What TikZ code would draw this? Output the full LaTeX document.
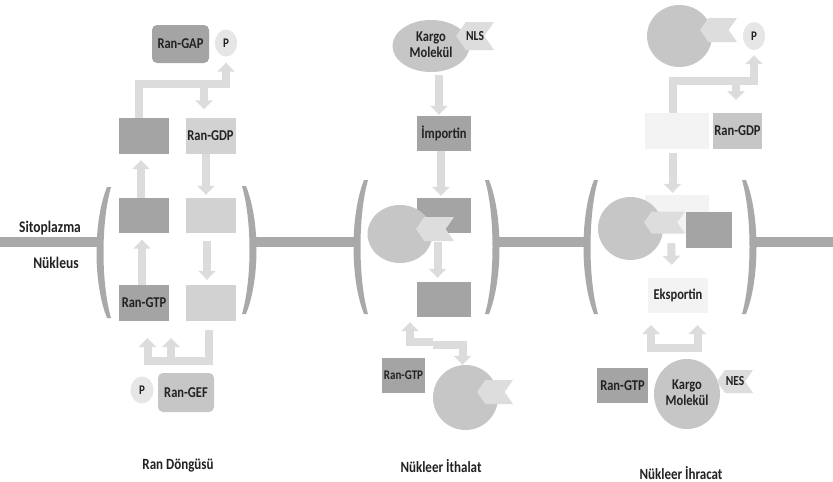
\documentclass[tikz,border=0pt]{standalone}
\usepackage{fontspec}
\usepackage{graphicx}
\setmainfont{Carlito}
\usetikzlibrary{arrows.meta,shapes.geometric,shapes.symbols}

\definecolor{memb}{HTML}{A9A9A9}
\definecolor{flowc}{HTML}{DCDCDC}
\definecolor{darkg}{HTML}{A4A4A4}
\definecolor{midg}{HTML}{C6C6C6}
\definecolor{lightg}{HTML}{D2D2D2}
\definecolor{paleg}{HTML}{F3F3F3}
\definecolor{tagg}{HTML}{DDDDDD}
\definecolor{phos}{HTML}{E6E6E6}
\definecolor{ink}{HTML}{222222}

% slightly tall lettering
\newcommand\tallt[1]{\scalebox{1}[1.2]{#1}}
\newcommand\twoline[2]{\tallt{\begin{tabular}{@{}c@{}}#1\\[-2pt]#2\end{tabular}}}

% membrane brackets: #1 outer x at the middle, #2 top y, #3 height
\newcommand\membL[3]{%
  \begin{scope}[shift={(#1,#2)}]
    \fill[memb] (11,0) .. controls (-3,35) and (-3,#3-35) .. (11,#3)
      -- (15,#3) .. controls (5,#3-35) and (5,35) .. (15,0) -- cycle;
  \end{scope}}
\newcommand\membR[3]{%
  \begin{scope}[shift={(#1,#2)},xscale=-1]
    \fill[memb] (11,0) .. controls (-3,35) and (-3,#3-35) .. (11,#3)
      -- (15,#3) .. controls (5,#3-35) and (5,35) .. (15,0) -- cycle;
  \end{scope}}

\tikzset{
  lbl/.style={font=\bfseries\fontsize{12.5}{15}\selectfont, text=ink},
  blk/.style={rectangle, inner sep=0pt, minimum width=50pt, minimum height=36pt, lbl},
  darkbox/.style={blk, fill=darkg},
  lightbox/.style={blk, fill=lightg},
  palebox/.style={blk, fill=paleg},
  enzyme/.style={blk, rounded corners=5pt},
  phosph/.style={ellipse, inner sep=0pt, minimum width=22pt, minimum height=27pt,
    fill=phos, text=ink, font=\bfseries\fontsize{11}{12}\selectfont},
  cargo/.style={ellipse, inner sep=0pt, fill=midg, lbl},
  tag/.style={signal, signal to=west, signal from=east, signal pointer angle=110,
    inner sep=0pt, fill=tagg, text=ink, font=\bfseries\fontsize{11.5}{12}\selectfont},
  flow/.style={draw=flowc, line width=8pt, line join=miter,
    -{Triangle[width=17pt,length=9pt]}},
  flow2/.style={draw=flowc, line width=8pt, line join=miter,
    {Triangle[width=17pt,length=9pt]}-{Triangle[width=17pt,length=9pt]}},
  caption/.style={font=\bfseries\fontsize{13}{15}\selectfont, text=ink},
}

\begin{document}
\begin{tikzpicture}[x=1pt,y=-1pt]
\useasboundingbox (0,0) rectangle (833,482);
\fill[white] (0,0) rectangle (833,482);

% ---------------- nuclear envelope ----------------
\draw[memb, line width=10pt] (0,241.5) -- (98,241.5);
\draw[memb, line width=10pt] (255,241.5) -- (355,241.5);
\draw[memb, line width=10pt] (498,241.5) -- (585,241.5);
\draw[memb, line width=10pt] (755,241.5) -- (833,241.5);
\membL{96}{187}{131}  \membR{257}{186}{128}
\membL{353}{180}{134} \membR{500}{180}{134}
\membL{583}{180}{134} \membR{757}{180}{134}

\node[lbl, font=\bfseries\fontsize{13.5}{15}\selectfont] (cyto) at (50,228) {\tallt{Sitoplazma}};
\node[lbl, font=\bfseries\fontsize{13.5}{15}\selectfont] (nuc) at (56,263) {\tallt{Nükleus}};

% ---------------- Ran cycle ----------------
\node[enzyme, fill=darkg, minimum width=57pt, minimum height=38pt] (gap) at (180.5,44) {\tallt{Ran-GAP}};
\node[phosph] (p1) at (226,43) {\tallt{P}};
\node[darkbox] (tl) at (144,136) {};
\node[lightbox] (tr) at (210.5,135.5) {\tallt{Ran-GDP}};
\node[darkbox, minimum height=35pt] (ml) at (144,215.5) {};
\node[lightbox, minimum height=35pt] (mr) at (210.5,215.5) {};
\node[darkbox] (bl) at (144,303) {\tallt{Ran-GTP}};
\node[lightbox] (br) at (210.5,302.5) {};
\node[enzyme, fill=midg, minimum width=56pt, minimum height=39pt] (gef) at (186,392.5) {\tallt{Ran-GEF}};
\node[phosph, minimum width=23pt] (p2) at (142,390) {\tallt{P}};

\coordinate (c1a) at (139,84);
\coordinate (c1b) at (204,84);
\draw[flow] ([xshift=-5pt]tl.north) |- (c1a) -| ([yshift=-6pt]p1.south);
\draw[flow, shorten >=8pt] (c1b) -- (c1b |- tr.north);
\draw[flow, shorten >=6pt] ([xshift=-3pt]ml.north) -- ([xshift=-3pt]tl.south);
\draw[flow, shorten >=3pt] ([xshift=-4.5pt]tr.south) -- ([xshift=-4.5pt]mr.north);
\draw[flow, shorten >=6.5pt] ([xshift=-2pt]bl.north) -- ([xshift=-2pt]ml.south);
\draw[flow, shorten <=7.5pt, shorten >=4.5pt] ([xshift=-3.5pt]mr.south) -- ([xshift=-3.5pt]br.north);
\coordinate (c1c) at (208.5,330);
\coordinate (c1d) at (147.5,361);
\coordinate (c1e) at (171,361);
\draw[flow] (c1c) |- (c1d) -- ++(0,-23);
\draw[flow] (c1e) -- ++(0,-23);

\node[caption] (t1) at (178,466) {\tallt{Ran Döngüsü}};

% ---------------- nuclear import ----------------
\node[cargo, minimum width=77pt, minimum height=52pt] (k1) at (431,46) {\twoline{Kargo}{Molekül}};
\node[tag, minimum width=38pt, minimum height=28pt] (nls) at (475,36) {\tallt{NLS}};
\node[darkbox, minimum width=54pt, minimum height=35pt] (imp) at (444,133.5) {\tallt{İmportin}};
\node[darkbox, minimum width=54pt, minimum height=35pt] (md) at (444,215.5) {};
\node[cargo, minimum width=65pt, minimum height=58pt] (mc) at (400,234) {};
\node[tag, minimum width=38pt, minimum height=24pt] (mt) at (435,229) {};
\node[darkbox, minimum width=54pt, minimum height=35pt] (ld) at (444,299.5) {};
\node[darkbox, minimum width=43pt, minimum height=35pt,
      font=\bfseries\fontsize{11}{13}\selectfont] (rg2) at (403.5,375.5) {\tallt{Ran-GTP}};
\node[cargo, minimum width=65pt, minimum height=65pt] (bc) at (465.5,397.5) {};
\node[tag, minimum width=36pt, minimum height=24pt] (bt) at (495,392) {};

\coordinate (c2a) at ([xshift=-5pt, yshift=1pt]imp.north);
\draw[flow, shorten <=3pt] (k1.south -| c2a) -- (c2a);
\draw[flow, shorten >=2pt] ([xshift=-3pt]imp.south) -- ([xshift=-3pt]md.north);
\draw[flow, shorten <=9pt, shorten >=4pt] ([xshift=-6.5pt]md.south) -- ([xshift=-6.5pt]ld.north);
\coordinate (c2b) at (433,342);
\coordinate (c2c) at (433,345);
\draw[flow] (c2b) -| ([xshift=-34pt, yshift=-5pt]ld.south);
\draw[flow] (c2c) -| ([xshift=-3pt]bc.north);

\node[caption] (t2) at (441,466) {\tallt{Nükleer İthalat}};

% ---------------- nuclear export ----------------
\node[cargo, minimum width=65pt, minimum height=62pt] (tc) at (679.5,36) {};
\node[tag, minimum width=37pt, minimum height=24pt] (tt) at (718.5,30) {};
\node[phosph, minimum height=28pt] (p3) at (754,36) {\tallt{P}};
\node[palebox, minimum width=64pt] (lb) at (677,131) {};
\node[blk, fill=midg, minimum width=49pt] (gdp3) at (737.5,131) {\tallt{Ran-GDP}};
\node[palebox, minimum width=64pt, minimum height=38pt] (mlb) at (677,214) {};
\node[cargo, minimum width=65pt, minimum height=63pt] (c3) at (630.5,228.5) {};
\node[tag, minimum width=41pt, minimum height=22pt] (ch3) at (664.5,222.5) {};
\node[darkbox, minimum width=46pt] (db3) at (709,230) {};
\node[palebox, minimum width=60pt, minimum height=35pt] (eks) at (678,295.5) {\tallt{Eksportin}};
\node[darkbox, minimum width=51pt, minimum height=35pt] (rg3) at (622.5,385.5) {\tallt{Ran-GTP}};
\node[cargo, minimum width=66pt, minimum height=70pt] (kc3) at (687,394) {\twoline{Kargo}{Molekül}};
\node[tag, minimum width=36pt, minimum height=23pt] (nes) at (735,381.5) {\tallt{NES}};

\coordinate (c3a) at (672.5,81);
\coordinate (c3b) at (736,81);
\draw[flow] ([xshift=-4.5pt]lb.north) |- (c3a) -| ([yshift=-5pt]p3.south);
\draw[flow] (c3b) -- ++(0,19);
\draw[flow, shorten <=4pt, shorten >=2pt] ([xshift=-4.5pt]lb.south) -- ([xshift=-4.5pt]mlb.north);
\draw[flow, shorten <=10pt, shorten >=13pt] ([xshift=-6pt]mlb.south) -- ([xshift=-6pt]eks.north);
\coordinate (c3c) at (651,348);
\coordinate (c3d) at (697.5,348);
\coordinate (c3e) at (651,325);
\draw[flow2] (c3e) -- (c3c) -- (c3d) -- ++(0,-23);

\node[caption] (t3) at (681,473) {\tallt{Nükleer İhracat}};
\end{tikzpicture}
\end{document}
